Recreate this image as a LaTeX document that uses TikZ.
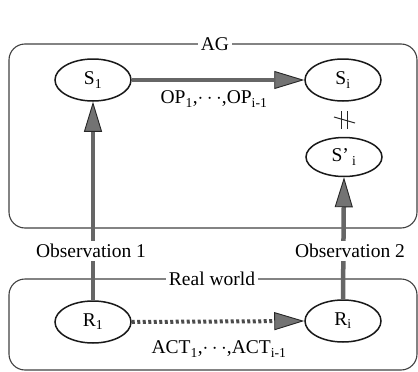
\documentclass[tikz,border=0pt]{standalone}
\usepackage{fontspec}
\setmainfont{Liberation Serif}
\usetikzlibrary{arrows.meta,shapes.geometric}
\begin{document}
\begin{tikzpicture}[x=1pt,y=-1pt,
  every node/.style={font=\fontsize{19.5}{22}\selectfont},
  state/.style={ellipse,draw=black!90,line width=1.5pt,minimum width=76pt,minimum height=42pt,inner sep=0pt},
  world/.style={draw=black!75,line width=1.1pt,rounded corners=16pt,minimum width=408pt},
  tag/.style={fill=white,inner sep=3pt},
  tip/.style={-{Triangle[length=30pt,width=18pt,line width=0.9pt,color=black!85,fill=black!55]}},
  flow/.style={draw=black!60,line width=4.5pt,tip},
  dotflow/.style={flow,draw=black!70,line width=4pt,dash pattern=on 3pt off 2.5pt},
  bar/.style={draw=black!85,line width=1pt}
]
\useasboundingbox (0,0) rectangle (418,372);

% the two worlds
\node[world,minimum height=184pt] (ag) at (213,136) {};
\node[world,minimum height=91pt] (rw) at (213,324.5) {};

% states
\node[state] (s1) at (93,80) {S\textsubscript{1}};
\node[state] (si) at (343,80) {S\textsubscript{i}};
\node[state,minimum height=39pt] (spi) at (344,157) {S'\,\textsubscript{i}};
\node[state] (r1) at (93,322) {R\textsubscript{1}};
\node[state] (ri) at (343,321) {R\textsubscript{i}};

% transitions
\draw[flow] (s1.east) -- (si.west);
\draw[dotflow] (r1.east) -- (ri.west);
\draw[flow] (r1.north) -- (s1.south);
\draw[flow] (ri.north) -- (spi.south);

% not-equal mark between S_i and S'_i
\coordinate (neq) at (344,120);
\draw[bar] ([shift={(-3,-9)}]neq) -- ([shift={(-3,9)}]neq);
\draw[bar] ([shift={(3,-9)}]neq) -- ([shift={(3,9)}]neq);
\draw[bar] ([shift={(-10,-3)}]neq) -- ([shift={(11,3)}]neq);

% labels
\node (op) at (214,99) {OP\textsubscript{1},$\cdots$,OP\textsubscript{i-1}};
\node (act) at (219,349) {ACT\textsubscript{1},$\cdots$,ACT\textsubscript{i-1}};
\node[tag] (agl) at (215,44) {AG};
\node[tag] (rwl) at (212,279) {Real world};
\node[tag] (obs1) at (91,251) {Observation 1};
\node[tag] (obs2) at (350,251) {Observation 2};
\end{tikzpicture}
\end{document}
